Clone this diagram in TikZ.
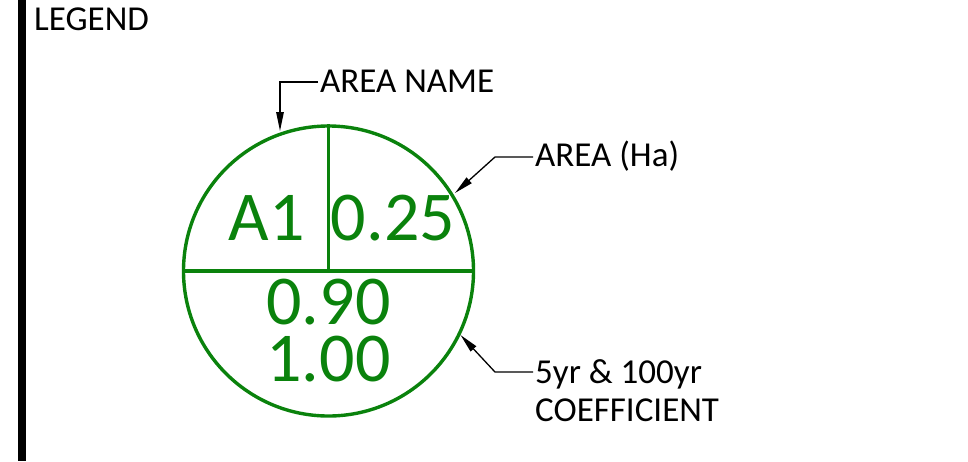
\documentclass[tikz,border=0pt]{standalone}
\usepackage{fontspec}
\setmainfont{Carlito}
\usetikzlibrary{arrows.meta}
\definecolor{legendgreen}{RGB}{10,130,12}
\begin{document}
\begin{tikzpicture}[x=1pt,y=-1pt,
  lbl/.style={inner sep=0pt,anchor=base west,font=\fontsize{35}{40}\selectfont},
  big/.style={inner sep=0pt,anchor=base,text=legendgreen,text height=44pt,text depth=0pt,font=\fontsize{70}{80}\selectfont},
  leader/.style={draw=black,line width=1.3pt,-{Triangle[length=19pt,width=7.5pt]}},
  ring/.style={draw=legendgreen,line width=3.4pt},
]
\useasboundingbox (0,0) rectangle (968,461);
\fill[black] (18,0) rectangle (26,461);
\node[lbl] (legend) at (34,30) {LEGEND};

% circle
\node[ring,circle,minimum size=290pt,inner sep=0pt] (c) at (328.5,271) {};
\draw[ring] (c.west) -- (c.east);
\draw[ring] (c.north) -- (c.center);

\node[big] (a1) at (266.5,240) {A1};
\node[big] (area) at (393,240) {0.25};
\node[big] (k5) at (328.5,324) {0.90};
\node[big] (k100) at (328.5,381) {1.00};

% labels
\node[lbl] (nm) at (320,92.7) {AREA NAME};
\node[lbl] (ha) at (535,166.7) {AREA (Ha)};
\node[lbl] (co1) at (535,383.5) {5yr \& 100yr};
\node[lbl] (co2) at (535,421.5) {COEFFICIENT};

% leader points
\coordinate (nmS) at (318,82);
\coordinate (nmK) at (280,82);
\coordinate (nmT) at (280,131);
\coordinate (haS) at (533,157);
\coordinate (haK) at (495,157);
\coordinate (haT) at (455,193);
\coordinate (coS) at (533,372);
\coordinate (coK) at (495,372);
\coordinate (coT) at (460.5,335);

\draw[leader] (nmS) -- (nmK) -- (nmT);
\draw[leader] (haS) -- (haK) -- (haT);
\draw[leader] (coS) -- (coK) -- (coT);
\end{tikzpicture}
\end{document}
